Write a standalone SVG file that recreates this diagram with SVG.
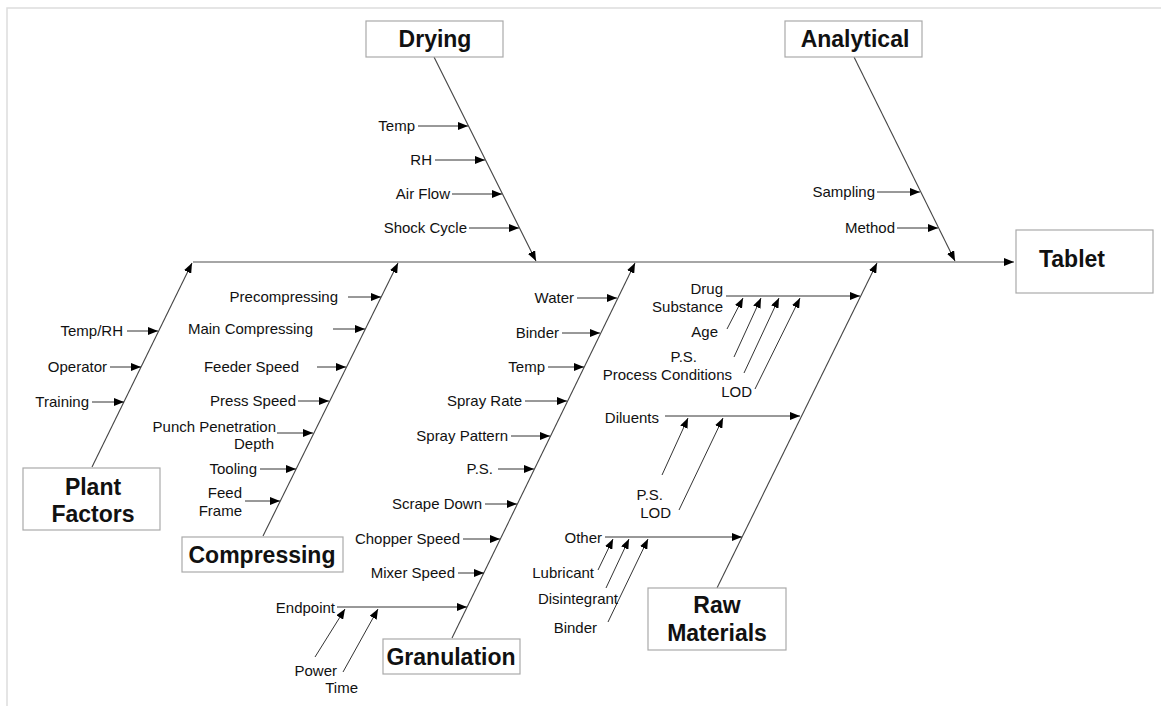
<svg xmlns="http://www.w3.org/2000/svg" width="1161" height="706" viewBox="0 0 1161 706">
<style>
.box{fill:#fff;stroke:#aaa;stroke-width:1.2}
.t{font-family:"Liberation Sans",Arial,sans-serif;font-size:23px;font-weight:bold;fill:#111;text-anchor:middle}
.l{font-family:"Liberation Sans",Arial,sans-serif;font-size:15px;fill:#111;text-anchor:end}
.c{stroke:#333;stroke-width:1;fill:none;marker-end:url(#ah)}
.b{stroke:#444;stroke-width:1.1;fill:none;marker-end:url(#ah)}
.s{stroke:#888;stroke-width:1.6;fill:none;marker-end:url(#ah)}
.n{stroke:#444;stroke-width:1;fill:none}
</style>
<defs>
<marker id="ah" markerUnits="userSpaceOnUse" markerWidth="11" markerHeight="8" refX="10" refY="4" orient="auto" viewBox="0 0 11 8">
<path d="M0,0 L10,4 L0,8 z" fill="#000"/>
</marker>
</defs>
<rect width="1161" height="706" fill="#fff"/>
<path d="M7,706 V8 H1161" fill="none" stroke="#ddd" stroke-width="1.5"/>

<g id="connectors">
<line class="s" x1="193" y1="262" x2="1014" y2="262"/>
<line class="b" x1="434" y1="57" x2="536" y2="261"/>
<line class="b" x1="854" y1="57" x2="955" y2="261"/>
<line class="b" x1="92" y1="467" x2="192" y2="263"/>
<line class="b" x1="263" y1="536" x2="398" y2="263"/>
<line class="b" x1="452" y1="638" x2="635" y2="263"/>
<line class="b" x1="717" y1="588" x2="877" y2="263"/>
<!-- Drying -->
<line class="c" x1="418" y1="126" x2="468" y2="126"/>
<line class="c" x1="435" y1="160" x2="485" y2="160"/>
<line class="c" x1="452" y1="194" x2="502" y2="194"/>
<line class="c" x1="469" y1="228" x2="519" y2="228"/>
<!-- Analytical -->
<line class="c" x1="877" y1="192" x2="920" y2="192"/>
<line class="c" x1="897" y1="228" x2="938" y2="228"/>
<!-- Plant factors -->
<line class="c" x1="127" y1="331" x2="158" y2="331"/>
<line class="c" x1="110" y1="367" x2="141" y2="367"/>
<line class="c" x1="92" y1="402" x2="124" y2="402"/>
<!-- Compressing -->
<line class="c" x1="348" y1="297" x2="381" y2="297"/>
<line class="c" x1="333" y1="329" x2="365" y2="329"/>
<line class="c" x1="317" y1="367" x2="346" y2="367"/>
<line class="c" x1="298" y1="401" x2="329" y2="401"/>
<line class="c" x1="277" y1="433" x2="313" y2="433"/>
<line class="c" x1="260" y1="469" x2="296" y2="469"/>
<line class="c" x1="245" y1="501" x2="280" y2="501"/>
<!-- Granulation -->
<line class="c" x1="577" y1="298" x2="617" y2="298"/>
<line class="c" x1="562" y1="333" x2="600" y2="333"/>
<line class="c" x1="548" y1="367" x2="584" y2="367"/>
<line class="c" x1="525" y1="401" x2="567" y2="401"/>
<line class="c" x1="511" y1="436" x2="550" y2="436"/>
<line class="c" x1="498" y1="469" x2="534" y2="469"/>
<line class="c" x1="485" y1="504" x2="517" y2="504"/>
<line class="c" x1="463" y1="539" x2="500" y2="539"/>
<line class="c" x1="458" y1="573" x2="484" y2="573"/>
<line class="c" x1="337" y1="607" x2="467" y2="607"/>
<line class="c" x1="315" y1="657" x2="345" y2="609"/>
<line class="c" x1="343" y1="672" x2="378" y2="609"/>
<!-- Raw materials -->
<line class="c" x1="726" y1="296" x2="860" y2="296"/>
<line class="c" x1="727" y1="329" x2="743" y2="298"/>
<line class="c" x1="734" y1="357" x2="761" y2="298"/>
<line class="c" x1="744" y1="373" x2="779" y2="298"/>
<line class="c" x1="755" y1="389" x2="800" y2="298"/>
<line class="c" x1="665" y1="416" x2="800" y2="416"/>
<line class="c" x1="662" y1="475" x2="688" y2="418"/>
<line class="c" x1="679" y1="510" x2="723" y2="418"/>
<line class="c" x1="605" y1="537" x2="742" y2="537"/>
<line class="c" x1="598" y1="570" x2="613" y2="539"/>
<line class="c" x1="606" y1="588" x2="629" y2="539"/>
<line class="c" x1="608" y1="622" x2="648" y2="539"/>
</g>

<g id="drying"><rect class="box" x="366" y="21" width="137" height="36"/><text class="t" x="435" y="47">Drying</text></g>
<g id="analytical"><rect class="box" x="785" y="21" width="137" height="36"/><text class="t" x="855" y="47">Analytical</text></g>
<g id="tablet"><rect class="box" x="1016" y="230" width="137" height="63"/><text class="t" x="1072" y="267">Tablet</text></g>
<g id="plant-factors"><rect class="box" x="23" y="468" width="137" height="62"/><text class="t" x="93" y="495">Plant</text><text class="t" x="93" y="522">Factors</text></g>
<g id="compressing"><rect class="box" x="182" y="537" width="161" height="35"/><text class="t" x="262" y="563">Compressing</text></g>
<g id="granulation"><rect class="box" x="383" y="639" width="137" height="35"/><text class="t" x="451" y="665">Granulation</text></g>
<g id="raw-materials"><rect class="box" x="648" y="588" width="138" height="62"/><text class="t" x="717" y="613">Raw</text><text class="t" x="717" y="641">Materials</text></g>

<g id="drying-causes">
<text class="l" x="415" y="131">Temp</text>
<text class="l" x="432" y="165">RH</text>
<text class="l" x="450" y="199">Air Flow</text>
<text class="l" x="467" y="233">Shock Cycle</text>
</g>
<g id="analytical-causes">
<text class="l" x="875" y="197">Sampling</text>
<text class="l" x="895" y="233">Method</text>
</g>
<g id="plant-causes">
<text class="l" x="123" y="336">Temp/RH</text>
<text class="l" x="107" y="372">Operator</text>
<text class="l" x="89" y="407">Training</text>
</g>
<g id="compressing-causes">
<text class="l" x="338" y="302">Precompressing</text>
<text class="l" x="313" y="334">Main Compressing</text>
<text class="l" x="299" y="372">Feeder Speed</text>
<text class="l" x="296" y="406">Press Speed</text>
<text class="l" x="276" y="432">Punch Penetration</text>
<text class="l" x="274" y="449">Depth</text>
<text class="l" x="257" y="474">Tooling</text>
<text class="l" x="242" y="498">Feed</text>
<text class="l" x="242" y="516">Frame</text>
</g>
<g id="granulation-causes">
<text class="l" x="574" y="303">Water</text>
<text class="l" x="559" y="338">Binder</text>
<text class="l" x="545" y="372">Temp</text>
<text class="l" x="522" y="406">Spray Rate</text>
<text class="l" x="508" y="441">Spray Pattern</text>
<text class="l" x="493" y="474">P.S.</text>
<text class="l" x="482" y="509">Scrape Down</text>
<text class="l" x="460" y="544">Chopper Speed</text>
<text class="l" x="455" y="578">Mixer Speed</text>
<text class="l" x="335" y="613">Endpoint</text>
<text class="l" x="337" y="676">Power</text>
<text class="l" x="358" y="693">Time</text>
</g>
<g id="raw-causes">
<text class="l" x="723" y="294">Drug</text>
<text class="l" x="723" y="312">Substance</text>
<text class="l" x="718" y="337">Age</text>
<text class="l" x="697" y="362">P.S.</text>
<text class="l" x="732" y="380">Process Conditions</text>
<text class="l" x="752" y="397">LOD</text>
<text class="l" x="659" y="423">Diluents</text>
<text class="l" x="663" y="500">P.S.</text>
<text class="l" x="671" y="518">LOD</text>
<text class="l" x="602" y="543">Other</text>
<text class="l" x="594" y="578">Lubricant</text>
<text class="l" x="618" y="604">Disintegrant</text>
<text class="l" x="597" y="633">Binder</text>
</g>
</svg>
